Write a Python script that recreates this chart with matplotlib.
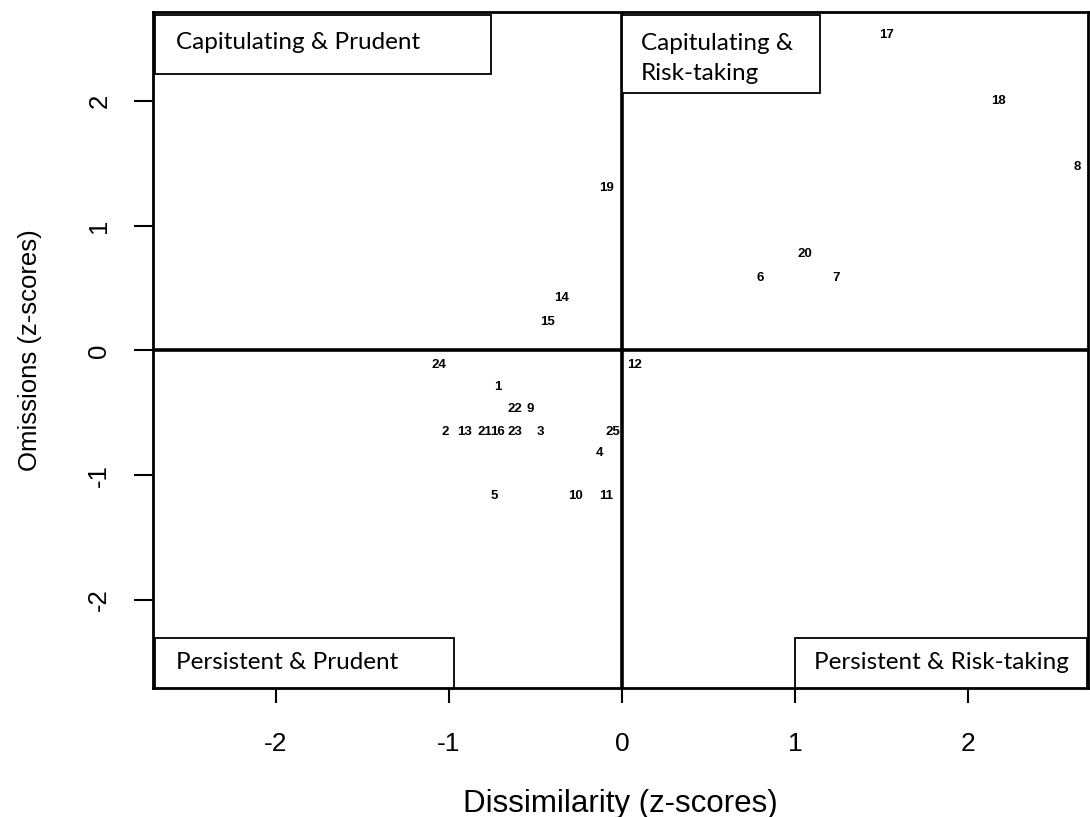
import matplotlib
matplotlib.use("Agg")
import matplotlib.pyplot as plt
from matplotlib.patches import Rectangle

# Participant z-scores: dissimilarity (x) and omissions (y)
ids = ["17", "18", "8", "19", "20", "6", "7", "14", "15", "24", "12", "1",
       "22", "9", "2", "13", "21", "16", "23", "3", "25", "4", "5", "10", "11"]
dissimilarity = [1.53, 2.18, 2.63, -0.09, 1.06, 0.80, 1.24, -0.35, -0.43, -1.06, 0.07, -0.72,
                 -0.62, -0.53, -1.02, -0.91, -0.79, -0.72, -0.62, -0.47, -0.05, -0.13, -0.74, -0.27, -0.09]
omissions = [2.53, 2.00, 1.47, 1.30, 0.77, 0.58, 0.58, 0.42, 0.23, -0.12, -0.12, -0.29,
             -0.47, -0.47, -0.65, -0.65, -0.65, -0.65, -0.65, -0.65, -0.65, -0.82, -1.17, -1.17, -1.17]

ticks = [-2, -1, 0, 1, 2]
quadrant_labels = ["Capitulating & Prudent", "Capitulating &\nRisk-taking",
                   "Persistent & Prudent", "Persistent & Risk-taking"]

AXIS_FONT = "Liberation Sans"

fig = plt.figure(figsize=(10.9, 8.17), dpi=100)
ax = fig.add_axes([0.1404, 0.158, 0.8576, 0.8273])
ax.set_xlim(-2.711, 2.694)
ax.set_ylim(-2.705, 2.713)

for s in ax.spines.values():
    s.set_linewidth(2.0)
    s.set_color("black")

ax.axhline(0, color="black", lw=2.6, zorder=2)
ax.axvline(0, color="black", lw=2.6, zorder=2)

for x, y, t in zip(dissimilarity, omissions, ids):
    ax.text(x, y, t, ha="center", va="center", fontsize=9.5, fontweight="bold",
            family="Liberation Sans", zorder=3)

ax.set_xticks(ticks)
ax.set_yticks(ticks)
ax.set_xticklabels([str(t) for t in ticks], family=AXIS_FONT, fontsize=19)
ax.set_yticklabels([str(t) for t in ticks], family=AXIS_FONT, fontsize=18.5,
                   rotation=90, va="center")
ax.tick_params(axis="x", direction="out", length=10.5, width=1.5, pad=21)
ax.tick_params(axis="y", direction="out", length=14, width=1.5, pad=16)

ax.set_xlabel("Dissimilarity (z-scores)", family=AXIS_FONT, fontsize=22.5, labelpad=24)
ax.set_ylabel("Omissions (z-scores)", family=AXIS_FONT, fontsize=18.5, labelpad=33)

# Quadrant boxes
boxes = [(-2.70, 2.22, 1.943, 0.47), (0.0, 2.06, 1.145, 0.63),
         (-2.70, -2.703, 1.73, 0.40), (1.0, -2.703, 1.69, 0.40)]
text_pos = [(-2.58, 2.465), (0.11, 2.34), (-2.58, -2.505), (1.11, -2.505)]
for (bx, by, bw, bh), (tx, ty), lab in zip(boxes, text_pos, quadrant_labels):
    ax.add_patch(Rectangle((bx, by), bw, bh, facecolor="white", edgecolor="black",
                           lw=1.3, zorder=4))
    ax.text(tx, ty, lab, ha="left", va="center", fontsize=17.5, family="Lato",
            linespacing=1.55, zorder=5)

fig.savefig("out.png", dpi=100)
